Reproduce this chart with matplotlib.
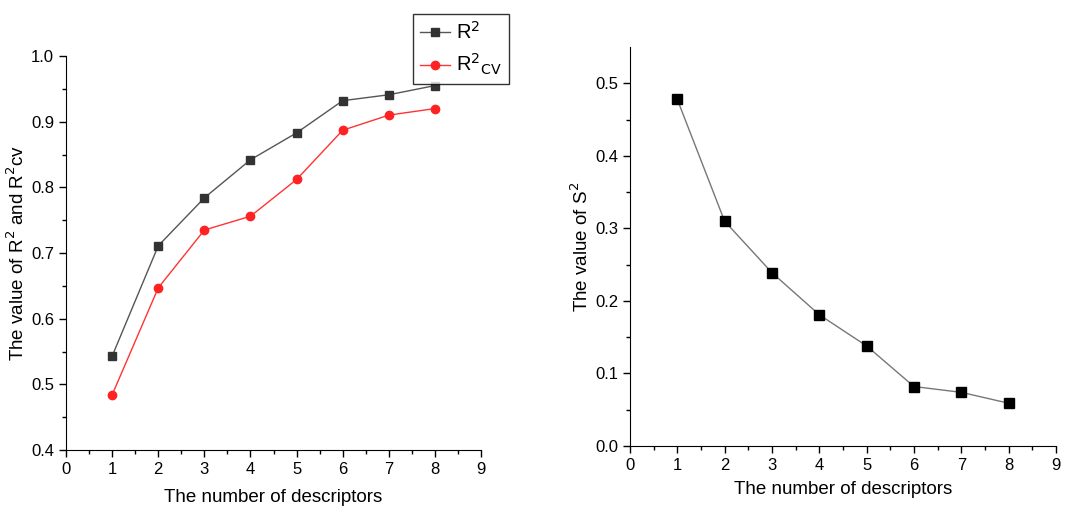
import numpy as np
import matplotlib.pyplot as plt

plt.rcParams['font.family'] = ['Liberation Sans', 'DejaVu Sans']

n_desc = [1, 2, 3, 4, 5, 6, 7, 8]
r2 = [0.543, 0.711, 0.784, 0.842, 0.883, 0.932, 0.941, 0.955]
r2_cv = [0.484, 0.647, 0.735, 0.756, 0.812, 0.887, 0.910, 0.920]
s2 = [0.478, 0.310, 0.239, 0.181, 0.138, 0.082, 0.074, 0.059]

fig = plt.figure(figsize=(10.65, 5.14), dpi=100)

def style_axes(ax):
    ax.spines['top'].set_visible(False)
    ax.spines['right'].set_visible(False)
    ax.tick_params(which='major', direction='out', length=5, width=1, labelsize=12)
    ax.tick_params(which='minor', direction='out', length=3, width=1)
    ax.set_xlim(0, 9)
    ax.set_xticks(range(10))
    ax.set_xticks(np.arange(0.5, 9, 1), minor=True)

# left panel: R2 and R2cv
ax1 = fig.add_axes([0.062, 0.1245, 0.3897, 0.7665])
ax1.plot(n_desc, r2, color='#555555', lw=1, marker='s', ms=6, mfc='#333333', mec='#333333', label='R$^2$')
ax1.plot(n_desc, r2_cv, color='#ff3333', lw=1, marker='o', ms=6, mfc='#ff2222', mec='#ff2222', label='R$^2$$_{\\rm CV}$')
style_axes(ax1)
ax1.set_ylim(0.4, 1.0)
ax1.set_yticks(np.arange(0.4, 1.01, 0.1))
ax1.set_yticks(np.arange(0.45, 1.0, 0.1), minor=True)
ax1.set_xlabel('The number of descriptors', fontsize=13.5, labelpad=9)
ax1.set_ylabel('The value of R$^2$ and R$^2$cv', fontsize=13.5, labelpad=2)
leg = fig.legend(loc='upper left', bbox_to_anchor=(413 / 1065, 1 - 14 / 514), fontsize=14.5,
                 frameon=True, fancybox=False, edgecolor='black', handlelength=1.5,
                 borderpad=0.35, labelspacing=0.45, handletextpad=0.3, borderaxespad=0)
leg.get_frame().set_linewidth(1)

# right panel: S2
ax2 = fig.add_axes([0.5915, 0.1323, 0.4, 0.776])
ax2.plot(n_desc, s2, color='#777777', lw=1, marker='s', ms=7, mfc='black', mec='black')
style_axes(ax2)
ax2.set_ylim(0, 0.55)
ax2.set_yticks(np.arange(0, 0.51, 0.1))
ax2.set_yticks(np.arange(0.05, 0.55, 0.1), minor=True)
ax2.set_xlabel('The number of descriptors', fontsize=13.5, labelpad=6)
ax2.set_ylabel('The value of S$^2$', fontsize=13.5, labelpad=2)

fig.savefig('out.png', dpi=100)
